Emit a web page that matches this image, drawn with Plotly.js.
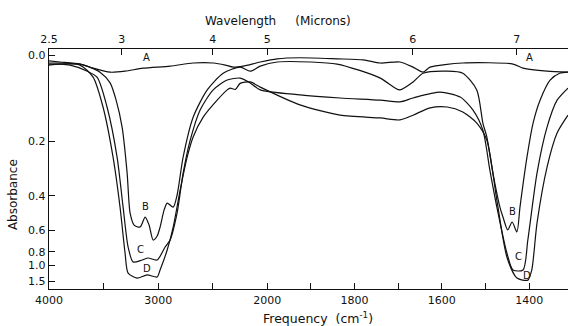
<!DOCTYPE html>
<html><head><meta charset="utf-8">
<script src="https://cdn.plot.ly/plotly-3.0.1.min.js"></script>
<style>html,body{margin:0;padding:0;background:#fff}#c{width:568px;height:326px}</style>
</head><body><div id="c"></div>
<script>
// Wavenumber (cm-1) and absorbance readings for each spectrum
const nuA  = [4000,3899,3716,3596,3440,3303,3138,2890,2679,2495,2385,2312,2220,2064,1977,1925,1840,1780,1741,1696,1666,1643,1627,1552,1437,1414,1359,1311];
const absA = [0.011,0.013,0.017,0.025,0.033,0.031,0.025,0.021,0.015,0.015,0.019,0.023,0.021,0.013,0.007,0.005,0.007,0.009,0.015,0.013,0.023,0.033,0.023,0.015,0.017,0.025,0.031,0.033];

const nuB  = [4000,3899,3716,3651,3532,3440,3385,3330,3284,3257,3220,3165,3119,3083,3046,3009,2982,2945,2917,2862,2826,2771,2679,2550,2404,2248,2156,2064,1977,1900,1840,1790,1741,1707,1696,1666,1643,1588,1552,1520,1506,1497,1483,1467,1460,1449,1439,1428,1421,1405,1391,1375,1352,1330,1311];
const absB = [0.015,0.015,0.017,0.021,0.033,0.055,0.093,0.160,0.305,0.488,0.564,0.577,0.512,0.563,0.679,0.645,0.577,0.471,0.435,0.456,0.396,0.249,0.134,0.070,0.035,0.023,0.031,0.021,0.013,0.013,0.017,0.029,0.045,0.066,0.070,0.053,0.035,0.031,0.035,0.070,0.149,0.187,0.305,0.456,0.512,0.598,0.543,0.613,0.456,0.249,0.149,0.093,0.049,0.035,0.033];

const nuC  = [4000,3899,3807,3670,3560,3468,3376,3321,3275,3229,3147,3092,3009,2936,2890,2826,2771,2706,2615,2495,2367,2248,2156,2064,1925,1833,1741,1696,1666,1604,1558,1529,1506,1490,1474,1451,1437,1414,1403,1382,1359,1336,1311];
const absC = [0.017,0.017,0.019,0.029,0.043,0.109,0.249,0.456,0.746,0.938,0.907,0.878,0.907,0.746,0.679,0.488,0.305,0.196,0.116,0.070,0.049,0.045,0.055,0.070,0.081,0.088,0.093,0.097,0.088,0.075,0.086,0.116,0.168,0.294,0.456,0.813,1.09,1.09,0.679,0.305,0.160,0.093,0.066];

const nuD  = [4000,3899,3716,3596,3505,3413,3349,3303,3275,3193,3101,3009,2982,2917,2862,2798,2734,2679,2587,2459,2367,2339,2293,2248,2156,2064,1925,1833,1741,1696,1666,1627,1588,1552,1520,1497,1474,1451,1428,1403,1394,1382,1359,1336,1311];
const absD = [0.019,0.017,0.019,0.043,0.109,0.249,0.456,0.813,1.17,1.33,1.22,1.29,1.09,0.778,0.577,0.374,0.249,0.187,0.134,0.093,0.070,0.066,0.069,0.056,0.053,0.064,0.104,0.129,0.136,0.141,0.129,0.111,0.109,0.121,0.149,0.196,0.420,0.864,1.33,1.42,1.09,0.550,0.283,0.176,0.129];

// Axis tick definitions
const freqTicks  = [4000,3500,3000,2500,2000,1900,1800,1700,1600,1500,1400];
const freqLabels = ['4000','','3000','','2000','','1800','','1600','','1400'];
const waveTicks  = [2.5,3,4,5,6,7];
const waveLabels = ['2.5','3','4','5','6','7'];
const absTicks   = [0,0.2,0.4,0.6,0.8,1.0,1.5];
const absLabels  = ['0.0','0.2','0.4','0.6','0.8','1.0','1.5'];

// Grating-change frequency scale (4x expansion below 2000 cm-1) and linear-transmittance ordinate
function xu(nu){ return nu >= 2000 ? 4000 - nu : 2000 + 4*(2000 - nu); }
function yt(a){ return Math.pow(10, -a); }

const xr = [0, xu(1311)];
const line = {color:'#111', width:1.2, shape:'spline', smoothing:0.7};
function tr(nu, ab){ return {x: nu.map(xu), y: ab.map(yt), type:'scatter', mode:'lines', line: line, hoverinfo:'skip', showlegend:false}; }

const data = [tr(nuA,absA), tr(nuB,absB), tr(nuC,absC), tr(nuD,absD),
  {x:[xr[0]], y:[2], xaxis:'x2', type:'scatter', mode:'markers', marker:{opacity:0}, showlegend:false, hoverinfo:'skip'}];

const f = {family:'DejaVu Sans, sans-serif', color:'#111'};
function lab(t, nu, a){ return {text:t, x:xu(nu), y:yt(a), xref:'x', yref:'y', xanchor:'center', yanchor:'middle', showarrow:false, font:Object.assign({size:10}, f)}; }

const layout = {
  width:568, height:326,
  margin:{l:49, r:0, t:49, b:37},
  paper_bgcolor:'#fff', plot_bgcolor:'#fff',
  font: Object.assign({size:11}, f),
  xaxis:{range:xr, tickvals:freqTicks.map(xu), ticktext:freqLabels, ticks:'inside', ticklen:6, tickwidth:1, tickcolor:'#111',
         showline:true, linecolor:'#111', linewidth:1.3, showgrid:false, zeroline:false, fixedrange:true, tickfont:Object.assign({size:11}, f)},
  xaxis2:{range:xr, overlaying:'x', side:'top', tickvals:waveTicks.map(w=>xu(10000/w)), ticktext:waveLabels, ticks:'inside', ticklen:6, tickcolor:'#111',
          showline:true, linecolor:'#111', linewidth:1.3, showgrid:false, zeroline:false, fixedrange:true, tickfont:Object.assign({size:11}, f)},
  yaxis:{range:[0,1.026], tickvals:absTicks.map(yt), ticktext:absLabels, ticks:'inside', ticklen:6, tickwidth:1, tickcolor:'#111',
         showline:true, linecolor:'#111', linewidth:1.3, showgrid:false, zeroline:false, fixedrange:true, tickfont:Object.assign({size:11}, f)},
  annotations:[
    {text:'Wavelength&nbsp;&nbsp;&nbsp;&nbsp;&nbsp;(Microns)', xref:'paper', yref:'paper', x:0.441, y:1.117, xanchor:'center', yanchor:'middle', showarrow:false, font:Object.assign({size:12}, f)},
    {text:'Frequency&nbsp;&nbsp;(cm<sup>-1</sup>)', xref:'paper', yref:'paper', x:0.518, y:-0.121, xanchor:'center', yanchor:'middle', showarrow:false, font:Object.assign({size:12.5}, f)},
    {text:'Absorbance', xref:'paper', yref:'paper', x:-0.069, y:0.392, xanchor:'center', yanchor:'middle', textangle:-90, showarrow:false, font:Object.assign({size:12}, f)},
    lab('A', 3110, 0.005), lab('A', 1400, 0.005),
    lab('B', 3119, 0.45), lab('C', 3165, 0.77), lab('D', 3101, 1.05),
    lab('B', 1439, 0.48), lab('C', 1425, 0.86), lab('D', 1405, 1.25)
  ]
};
Plotly.newPlot('c', data, layout, {staticPlot:true, displayModeBar:false});
</script></body></html>
